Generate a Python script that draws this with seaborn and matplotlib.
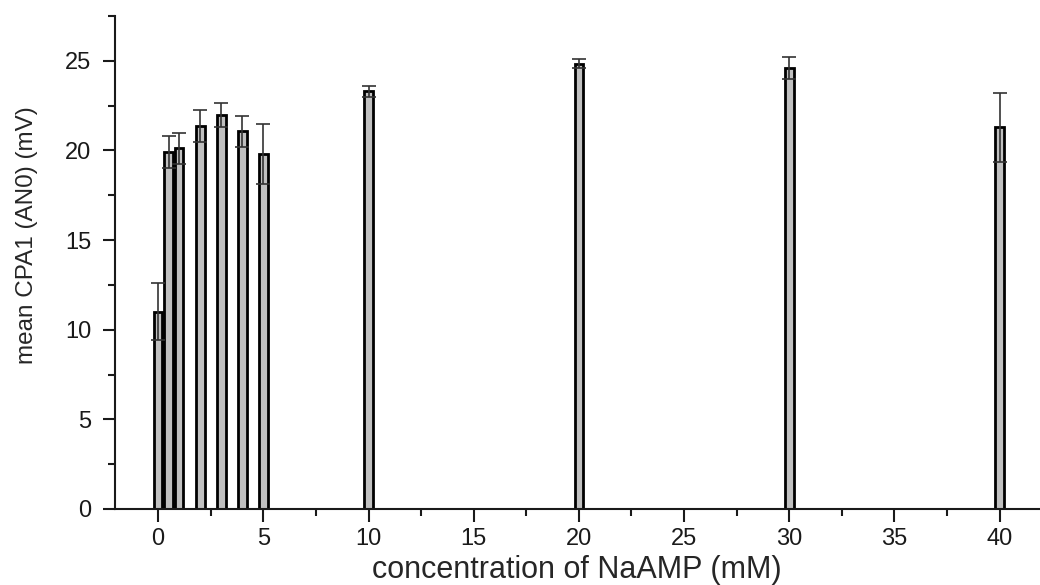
import matplotlib
matplotlib.use("Agg")
import matplotlib.pyplot as plt
from matplotlib.ticker import MultipleLocator
import seaborn as sns
import pandas as pd
import numpy as np

# data
concentration = [0, 0.5, 1, 2, 3, 4, 5, 10, 20, 30, 40]
mean_mv = [11.0, 19.93, 20.13, 21.35, 21.97, 21.08, 19.82, 23.3, 24.85, 24.6, 21.3]
err_mv = [1.6, 0.9, 0.87, 0.88, 0.68, 0.87, 1.67, 0.32, 0.25, 0.6, 1.93]

df = pd.DataFrame({"conc": concentration, "mean": mean_mv, "err": err_mv})

sns.set_theme(style="ticks")
plt.rcParams["font.family"] = ["Liberation Sans", "DejaVu Sans"]

fig = plt.figure(figsize=(10.4, 5.85), dpi=100)
ax = fig.add_axes([0.1106, 0.13, 0.889, 0.8426])

sns.barplot(data=df, x="conc", y="mean", native_scale=True, width=0.82,
            color="#c0c0c0", saturation=1, edgecolor="black", linewidth=2.0,
            errorbar=None, ax=ax)
ax.errorbar(df["conc"], df["mean"], yerr=df["err"], fmt="none",
            ecolor="#333333", elinewidth=1.2, capsize=5, capthick=1.2, zorder=5)

ax.set_xlim(-2.05, 41.9)
ax.set_ylim(0, 27.5)
ax.xaxis.set_major_locator(MultipleLocator(5))
ax.xaxis.set_minor_locator(MultipleLocator(2.5))
ax.yaxis.set_major_locator(MultipleLocator(5))
ax.yaxis.set_minor_locator(MultipleLocator(2.5))

for s in ["top", "right"]:
    ax.spines[s].set_visible(False)
for s in ["left", "bottom"]:
    ax.spines[s].set_linewidth(1.5)
    ax.spines[s].set_color("#1a1a1a")

ax.tick_params(which="major", direction="out", length=9, width=1.5,
               labelsize=17, colors="#1a1a1a", pad=5)
ax.tick_params(which="minor", direction="out", length=5, width=1.5, colors="#1a1a1a")
ax.tick_params(axis="y", which="major", pad=8)

ax.set_xlabel("concentration of NaAMP (mM)", fontsize=22, labelpad=3)
ax.set_ylabel("mean CPA1 (AN0) (mV)", fontsize=17.5)
ax.yaxis.set_label_coords(-0.083, 0.556)
ax.grid(False)

fig.savefig("out.png", dpi=100)
